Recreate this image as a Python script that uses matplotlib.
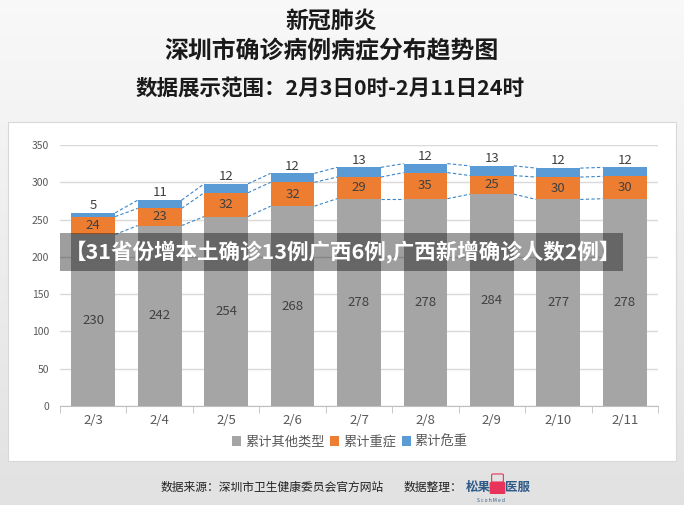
import matplotlib
matplotlib.use('Agg')
import matplotlib.pyplot as plt
import numpy as np
from matplotlib.patches import Rectangle, FancyBboxPatch

plt.rcParams['font.family'] = ['Noto Sans CJK SC', 'DejaVu Sans']

# 数据
dates = ['2/3', '2/4', '2/5', '2/6', '2/7', '2/8', '2/9', '2/10', '2/11']
other = [230, 242, 254, 268, 278, 278, 284, 277, 278]      # 累计其他类型
severe = [24, 23, 32, 32, 29, 35, 25, 30, 30]             # 累计重症
critical = [5, 11, 12, 12, 13, 12, 13, 12, 12]            # 累计危重
series_names = ['累计其他类型', '累计重症', '累计危重']
colors = ['#a5a5a5', '#ed7d31', '#5b9bd5']

W, H = 684, 505
fig = plt.figure(figsize=(W / 100, H / 100), dpi=100)


def fx(px):
    return px / W


def fy(py):
    return 1 - py / H


# 背景渐变
bg = fig.add_axes([0, 0, 1, 1], zorder=-10)
grad = np.linspace(0.975, 0.885, 256).reshape(-1, 1)
bg.imshow(np.dstack([grad, grad, grad]), aspect='auto', extent=[0, 1, 0, 1])
bg.set_axis_off()

# 白色面板
fig.patches.append(Rectangle((fx(8), fy(461)), fx(668), 339 / H, transform=fig.transFigure,
                             facecolor='white', edgecolor='#d8d8d8', lw=0.8, zorder=-5))

# 标题
fig.text(fx(331), fy(21), '新冠肺炎', ha='center', va='center', fontsize=16.5, fontweight='bold', color='#1a1a1a')
fig.text(fx(331), fy(51), '深圳市确诊病例病症分布趋势图', ha='center', va='center', fontsize=17.2,
         fontweight='bold', color='#1a1a1a')
fig.text(fx(330), fy(88), '数据展示范围：2月3日0时-2月11日24时', ha='center', va='center', fontsize=15.5,
         fontweight='bold', color='#1a1a1a')

# 图表
ax = fig.add_axes([fx(60), fy(406), fx(598), 261 / H])
x = np.arange(len(dates))
w = 0.66
bottom = np.zeros(len(dates))
tops = []
for vals, name, c in zip([other, severe, critical], series_names, colors):
    vals = np.array(vals)
    ax.bar(x, vals, w, bottom=bottom, color=c, label=name, zorder=3)
    bottom = bottom + vals
    tops.append(bottom.copy())

# 标签
for i in range(len(dates)):
    ax.text(x[i], other[i] / 2, str(other[i]), ha='center', va='center', fontsize=9.5, color='#404040', zorder=4)
    ax.text(x[i], other[i] + severe[i] / 2, str(severe[i]), ha='center', va='center', fontsize=9.5,
            color='#404040', zorder=4)
    ax.text(x[i], tops[2][i] + 1, str(critical[i]), ha='center', va='bottom', fontsize=9.5,
            color='#404040', zorder=4)

# 虚线连接
for lvl in tops:
    for i in range(len(dates) - 1):
        ax.plot([x[i] + w / 2, x[i + 1] - w / 2], [lvl[i], lvl[i + 1]], color='#3a86c8', lw=0.8,
                ls=(0, (3, 2)), zorder=2)

ax.set_xlim(-0.5, len(dates) - 0.5)
ax.set_ylim(0, 350)
ax.set_yticks(np.arange(0, 351, 50))
ax.yaxis.grid(True, color='#d9d9d9', lw=1, zorder=0)
ax.set_xticks(x)
ax.set_xticklabels(dates, fontsize=9.5, color='#595959')
ax.set_xticks(np.arange(-0.5, len(dates), 1), minor=True)
ax.tick_params(axis='x', which='major', length=0, pad=6)
ax.tick_params(axis='x', which='minor', length=5, color='#bfbfbf')
ax.tick_params(axis='y', length=0, labelsize=7.5, labelcolor='#595959', pad=8)
for s in ['top', 'right', 'left']:
    ax.spines[s].set_visible(False)
ax.spines['bottom'].set_color('#bfbfbf')
ax.set_facecolor('none')

fig.legend(loc='center', bbox_to_anchor=(fx(350), fy(442)), ncol=3, frameon=False, fontsize=9.5,
           handlelength=0.7, handleheight=0.7, handletextpad=0.3, columnspacing=0.4, labelcolor='#595959')

# 横幅
fig.patches.append(Rectangle((fx(60), fy(271)), fx(563), 38 / H, transform=fig.transFigure,
                             facecolor='black', alpha=0.38, edgecolor='none', zorder=10))
fig.text(fx(343), fy(252), '【31省份增本土确诊13例广西6例,广西新增确诊人数2例】', ha='center', va='center',
         fontsize=15.5, fontweight='bold', color='white', zorder=11)

# 页脚
fig.text(fx(272), fy(487), '数据来源：深圳市卫生健康委员会官方网站', ha='center', va='center', fontsize=8.5, color='#222222')
fig.text(fx(433), fy(487), '数据整理：', ha='center', va='center', fontsize=8.5, color='#222222')
fig.text(fx(478), fy(487), '松果', ha='center', va='center', fontsize=9, fontweight='bold', color='#2e5a87')
fig.text(fx(518), fy(487), '医服', ha='center', va='center', fontsize=9, fontweight='bold', color='#2e5a87')
fig.patches.append(FancyBboxPatch((fx(491), fy(493)), fx(13), 10 / H, boxstyle='round,pad=0.002',
                                  transform=fig.transFigure, facecolor='#e8345a', edgecolor='none'))
fig.patches.append(FancyBboxPatch((fx(493), fy(481)), fx(9), 6 / H, boxstyle='round,pad=0.002',
                                  transform=fig.transFigure, facecolor='none', edgecolor='#e8345a', lw=0.8))
fig.text(fx(491), fy(500), 'S c o h M e d', ha='center', va='center', fontsize=3.5, color='#2e5a87')

fig.savefig('out.png', dpi=100)
